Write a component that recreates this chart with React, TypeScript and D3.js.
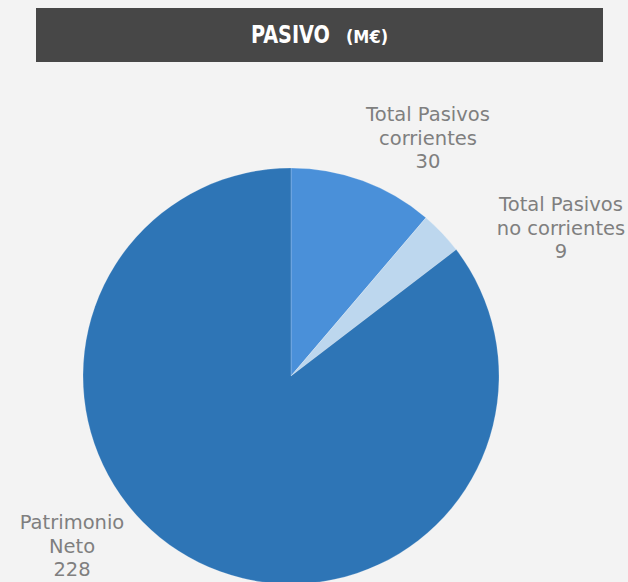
import React from "react";
import * as d3 from "d3";

const categories = ["Total Pasivos corrientes", "Total Pasivos no corrientes", "Patrimonio Neto"];
const labelLines = [["Total Pasivos", "corrientes", "30"], ["Total Pasivos", "no corrientes", "9"], ["Patrimonio", "Neto", "228"]];
const values = [30, 9, 228];
const colors = ["#4a90d9", "#bdd7ee", "#2e75b6"];
const labelPos = [[428, 121], [561, 211], [72, 529]];

const W = 628, H = 582;
const TITLE_FONT = "'DejaVu Sans Condensed', 'DejaVu Sans', sans-serif";
const FONT = "'DejaVu Sans', sans-serif";

export default function App() {
  const cx = 291, cy = 376, r = 208;
  const pie = d3.pie<number>().sort(null).value(d => d)(values);
  const arc = d3.arc<d3.PieArcDatum<number>>().innerRadius(0).outerRadius(r);
  return (
    <svg width={W} height={H} style={{ position: "absolute", left: 0, top: 0, display: "block" }}>
      <rect width={W} height={H} fill="#f3f3f3" />
      <rect x={36} y={8} width={567} height={54} fill="#474747" />
      <text x={251} y={43} textAnchor="start" fill="#ffffff" fontFamily={TITLE_FONT} fontWeight="bold"
        fontSize={25} textLength={79} lengthAdjust="spacingAndGlyphs">PASIVO</text>
      <text x={346} y={43} textAnchor="start" fill="#ffffff" fontFamily={TITLE_FONT} fontWeight="bold"
        fontSize={17} textLength={42} lengthAdjust="spacingAndGlyphs">(M€)</text>
      <g transform={`translate(${cx},${cy})`}>
        {pie.map((p, i) => (
          <path key={categories[i]} d={arc(p) || ""} fill={colors[i]} stroke="#ffffff" strokeOpacity={0.25} strokeWidth={0.8} />
        ))}
      </g>
      {labelLines.map((lines, i) => (
        <text key={i} textAnchor="middle" fill="#7f7f7f" fontFamily={FONT} fontSize={19.5}>
          {lines.map((l, j) => (
            <tspan key={j} x={labelPos[i][0]} y={labelPos[i][1] + j * 23.5}>{l}</tspan>
          ))}
        </text>
      ))}
    </svg>
  );
}
